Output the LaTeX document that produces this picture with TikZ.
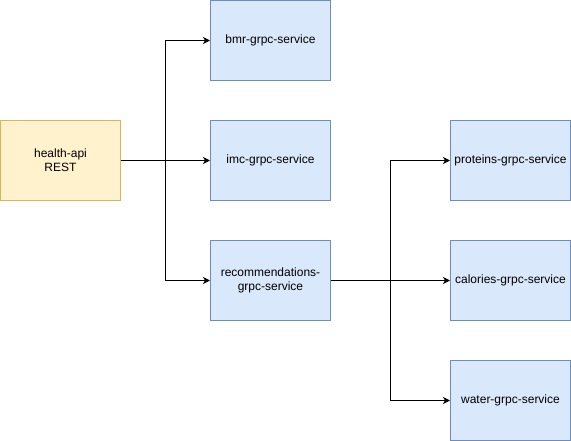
\documentclass[tikz,border=0pt]{standalone}
\usepackage{fontspec}
\setmainfont{Liberation Sans}
\usepackage{tikz}
\usetikzlibrary{arrows.meta}
\definecolor{apifill}{HTML}{FFF2CC}
\definecolor{apiline}{HTML}{D6B656}
\definecolor{svcfill}{HTML}{DAE8FC}
\definecolor{svcline}{HTML}{6C8EBF}

\begin{document}
\begin{tikzpicture}[x=1pt,y=-1pt,
  box/.style={minimum width=120pt,minimum height=80pt,inner sep=0pt,line width=1pt,
    align=center,font=\fontsize{12}{14}\selectfont},
  api/.style={box,draw=apiline,fill=apifill},
  svc/.style={box,draw=svcline,fill=svcfill},
  flow/.style={line width=1pt,-{Stealth[length=7pt,width=7pt,inset=2pt]}}]
\useasboundingbox (0,0) rectangle (571,441);
\node[api] (health) at (60.5,160.5) {health-api\\REST};
\node[svc] (bmr) at (270.5,40.5) {bmr-grpc-service};
\node[svc] (imc) at (270.5,160.5) {imc-grpc-service};
\node[svc] (rec) at (270.5,280.5) {recommendations-\\grpc-service};
\node[svc] (proteins) at (510.5,160.5) {proteins-grpc-service};
\node[svc] (calories) at (510.5,280.5) {calories-grpc-service};
\node[svc] (water) at (510.5,400.5) {water-grpc-service};
\coordinate (forkA) at (165.5,160.5);
\coordinate (forkB) at (390.5,280.5);
\draw[flow] (health.east) -- (forkA) |- (bmr.west);
\draw[flow] (health.east) -- (imc.west);
\draw[flow] (forkA) |- (rec.west);
\draw[flow] (rec.east) -- (forkB) |- (proteins.west);
\draw[flow] (rec.east) -- (calories.west);
\draw[flow] (forkB) |- (water.west);
\end{tikzpicture}
\end{document}
